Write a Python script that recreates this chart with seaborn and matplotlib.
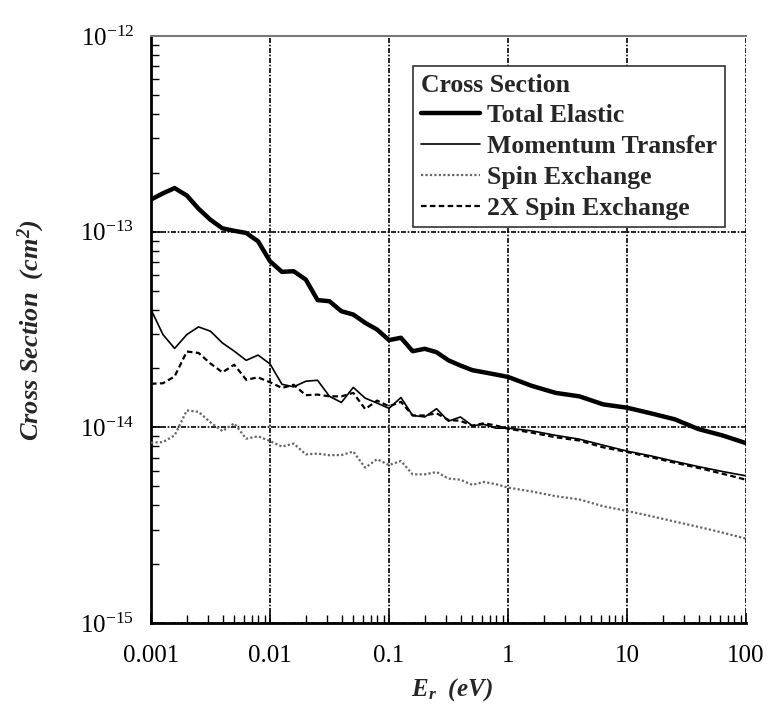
import matplotlib
matplotlib.use("Agg")
import matplotlib.pyplot as plt
import seaborn as sns
import pandas as pd
from matplotlib.ticker import LogLocator, NullFormatter, FixedLocator

# ---------------- data ----------------
energy_eV = [0.001, 0.00126, 0.00158, 0.002, 0.00251, 0.00316, 0.00398, 0.00501, 0.00631, 0.00794,
             0.01, 0.0126, 0.0158, 0.02, 0.0251, 0.0316, 0.0398, 0.0501, 0.0631, 0.0794,
             0.1, 0.126, 0.158, 0.2, 0.251, 0.316, 0.398, 0.501, 0.631, 0.794,
             1.0, 1.58, 2.51, 3.98, 6.31, 10.0, 15.8, 25.1, 39.8, 63.1, 100.0]

total_elastic = [1.46e-13, 1.57e-13, 1.67e-13, 1.53e-13, 1.31e-13, 1.15e-13, 1.04e-13, 1.01e-13, 0.985e-13, 0.893e-13,
                 7.06e-14, 6.23e-14, 6.28e-14, 5.69e-14, 4.47e-14, 4.41e-14, 3.92e-14, 3.77e-14, 3.42e-14, 3.16e-14,
                 2.79e-14, 2.87e-14, 2.45e-14, 2.52e-14, 2.42e-14, 2.20e-14, 2.07e-14, 1.96e-14, 1.91e-14, 1.86e-14,
                 1.81e-14, 1.63e-14, 1.50e-14, 1.44e-14, 1.31e-14, 1.26e-14, 1.18e-14, 1.10e-14, 0.98e-14, 0.91e-14, 0.83e-14]

momentum_transfer = [4.0e-14, 2.98e-14, 2.53e-14, 2.98e-14, 3.26e-14, 3.10e-14, 2.70e-14, 2.45e-14, 2.20e-14, 2.34e-14,
                     2.11e-14, 1.66e-14, 1.61e-14, 1.72e-14, 1.74e-14, 1.44e-14, 1.34e-14, 1.60e-14, 1.41e-14, 1.33e-14,
                     1.25e-14, 1.42e-14, 1.15e-14, 1.13e-14, 1.245e-14, 1.075e-14, 1.13e-14, 1.02e-14, 1.035e-14, 0.99e-14,
                     0.99e-14, 0.96e-14, 0.91e-14, 0.87e-14, 0.81e-14, 0.756e-14, 0.715e-14, 0.67e-14, 0.63e-14, 0.595e-14, 0.565e-14]

spin_exchange = [8.35e-15, 8.4e-15, 9.1e-15, 12.2e-15, 12.0e-15, 10.6e-15, 9.57e-15, 10.47e-15, 8.75e-15, 9.0e-15,
                 8.5e-15, 7.97e-15, 8.26e-15, 7.28e-15, 7.34e-15, 7.2e-15, 7.22e-15, 7.52e-15, 6.22e-15, 6.87e-15,
                 6.42e-15, 6.73e-15, 5.75e-15, 5.75e-15, 5.91e-15, 5.47e-15, 5.40e-15, 5.08e-15, 5.26e-15, 5.12e-15,
                 4.92e-15, 4.70e-15, 4.45e-15, 4.28e-15, 3.95e-15, 3.74e-15, 3.52e-15, 3.30e-15, 3.10e-15, 2.90e-15, 2.70e-15]

spin_exchange_2x = [16.7e-15, 16.8e-15, 18.2e-15, 24.4e-15, 24.0e-15, 21.2e-15, 19.1e-15, 20.9e-15, 17.5e-15, 18.0e-15,
                    17.0e-15, 15.9e-15, 16.5e-15, 14.6e-15, 14.7e-15, 14.4e-15, 14.4e-15, 15.0e-15, 12.4e-15, 13.7e-15,
                    12.8e-15, 13.5e-15, 11.5e-15, 11.5e-15, 11.8e-15, 10.9e-15, 10.8e-15, 10.2e-15, 10.5e-15, 10.2e-15,
                    9.84e-15, 9.4e-15, 8.9e-15, 8.56e-15, 7.9e-15, 7.48e-15, 7.04e-15, 6.6e-15, 6.2e-15, 5.8e-15, 5.4e-15]

series_labels = ["Total Elastic", "Momentum Transfer", "Spin Exchange", "2X Spin Exchange"]
x_tick_values = [0.001, 0.01, 0.1, 1, 10, 100]
x_tick_labels = ["0.001", "0.01", "0.1", "1", "10", "100"]
y_tick_values = [1e-15, 1e-14, 1e-13, 1e-12]
y_tick_labels = [r"$\mathregular{10^{-15}}$", r"$\mathregular{10^{-14}}$",
                 r"$\mathregular{10^{-13}}$", r"$\mathregular{10^{-12}}$"]

# ---------------- style ----------------
sns.set_style("ticks")
plt.rcParams["font.family"] = ["Liberation Serif", "DejaVu Serif"]
plt.rcParams["mathtext.fontset"] = "custom"
plt.rcParams["mathtext.rm"] = "Liberation Serif"
plt.rcParams["mathtext.it"] = "Liberation Serif:italic"
plt.rcParams["mathtext.bf"] = "Liberation Serif:bold"

fig = plt.figure(figsize=(7.69, 7.06), dpi=100)
ax = fig.add_axes([151 / 769, 1 - 623 / 706, (746 - 151) / 769, (623 - 36) / 706])

df = pd.DataFrame({"E": energy_eV,
                   series_labels[0]: total_elastic,
                   series_labels[1]: momentum_transfer,
                   series_labels[2]: spin_exchange,
                   series_labels[3]: spin_exchange_2x})

styles = {
    series_labels[0]: dict(color="black", linewidth=3.2, linestyle="-"),
    series_labels[1]: dict(color="black", linewidth=1.2, linestyle="-"),
    series_labels[2]: dict(color="#666666", linewidth=1.6, linestyle=(0, (1, 1))),
    series_labels[3]: dict(color="black", linewidth=1.6, linestyle=(0, (2.5, 1.5))),
}
for name in series_labels:
    sns.lineplot(data=df, x="E", y=name, ax=ax, label=name, zorder=3, **styles[name])

ax.set_xscale("log")
ax.set_yscale("log")
ax.set_xlim(0.001, 100)
ax.set_ylim(1e-15, 1e-12)

ax.xaxis.set_major_locator(FixedLocator(x_tick_values))
ax.set_xticklabels(x_tick_labels)
ax.yaxis.set_major_locator(FixedLocator(y_tick_values))
ax.set_yticklabels(y_tick_labels)
ax.xaxis.set_minor_locator(LogLocator(base=10, subs=range(2, 10), numticks=20))
ax.yaxis.set_minor_locator(LogLocator(base=10, subs=range(2, 10), numticks=20))
ax.xaxis.set_minor_formatter(NullFormatter())
ax.yaxis.set_minor_formatter(NullFormatter())

ax.tick_params(axis="both", which="major", direction="in", length=7, width=1.2,
               labelsize=18, colors="black")
ax.tick_params(axis="both", which="minor", direction="in", length=6, width=1.0, colors="black")
ax.tick_params(axis="x", which="major", pad=16)
ax.tick_params(axis="y", which="major", pad=12)

ax.grid(True, which="major", color="black", linewidth=1.2, linestyle=(0, (3, 1, 1, 1)))

for side in ["left", "bottom"]:
    ax.spines[side].set_color("black")
    ax.spines[side].set_linewidth(2.0)
ax.spines["top"].set_color("#777777")
ax.spines["top"].set_linewidth(1.5)
ax.spines["right"].set_visible(False)

ax.set_xlabel(r"$\mathregular{E_r}$  (eV)", fontsize=18, fontweight="bold", fontstyle="italic")
ax.set_ylabel(r"Cross Section  $\mathregular{(cm^2)}$", fontsize=19, fontweight="bold", fontstyle="italic")
ax.xaxis.set_label_coords(0.505, -0.09)
ax.yaxis.set_label_coords(-0.175, 0.5)

leg = ax.legend(title="Cross Section", loc="upper left", bbox_to_anchor=(0.4403, 0.9489),
                borderaxespad=0, fontsize=18.5, title_fontsize=18.5, alignment="left",
                frameon=True, fancybox=False, edgecolor="#333333", framealpha=1,
                handlelength=2.3, handletextpad=0.3, labelspacing=0.3, borderpad=0.3)
leg.get_frame().set_linewidth(1.2)
leg.get_title().set_fontweight("bold")
for t in leg.get_texts():
    t.set_fontweight("bold")
leg.set_zorder(5)

fig.savefig("out.png", dpi=100)
